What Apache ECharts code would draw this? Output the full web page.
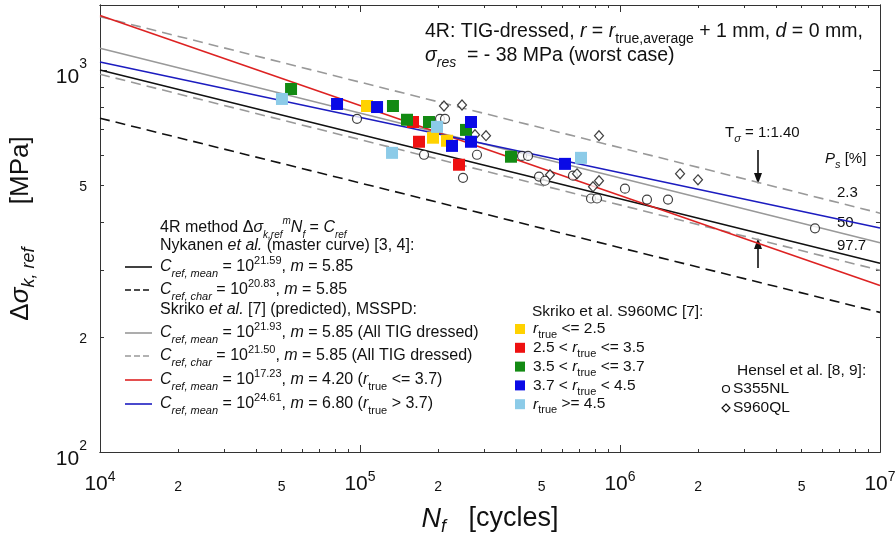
<!DOCTYPE html>
<html>
<head>
<meta charset="utf-8">
<script src="https://cdn.jsdelivr.net/npm/echarts@6/dist/echarts.min.js"></script>
<style>
  html, body { margin: 0; padding: 0; background: #fff; }
  #main { width: 896px; height: 536px; }
</style>
</head>
<body>
<div id="main"></div>
<script>
// 参考线 (两端点: N [cycles], Δσ [MPa])
var nykMean   = [[1e4, 1000], [1e7, 312]];
var nykChar   = [[1e4, 748],  [1e7, 232]];
var skrMean   = [[1e4, 1140], [1e7, 353]];
var skrChar   = [[1e4, 975],  [1e7, 299]];
var skrUpper  = [[1e4, 1380], [1e7, 422]];   // Ps = 2.3 %
var redMean   = [[1e4, 1390], [1e7, 273]];
var blueMean  = [[1e4, 1050], [1e7, 386]];

// Skriko S960MC 试验点
var yellowPts = [[106400, 805], [190900, 665], [216100, 653]];
var redPts    = [[159900, 731], [168600, 649], [240300, 565]];
var greenPts  = [[54300, 892], [133900, 805], [151600, 741], [184200, 731], [255700, 697], [380800, 593]];
var bluePts   = [[81600, 815], [116300, 800], [225900, 633], [267300, 731], [267300, 649], [614500, 568]];
var lbluePts  = [[50100, 840], [132800, 607], [197800, 710], [707900, 589]];

// Hensel 试验点
var s355Pts = [[97400, 745], [176300, 600], [203100, 745], [212300, 745], [281800, 600], [249000, 522],
               [419900, 596], [442800, 596], [488100, 526], [514700, 513], [659400, 529], [773600, 461],
               [815700, 461], [1045000, 489], [1270000, 458], [1530000, 458], [5623000, 385]];
var s960Pts = [[210400, 805], [246800, 810], [276900, 677], [305300, 673], [538000, 532], [683200, 535],
               [787400, 495], [830300, 513], [830300, 673], [1702000, 535], [1995000, 516]];

// 坐标轴范围 (对数)
var xRange = [1e4, 1e7];
var yRange = [100, 1480];
var xLabelMant = [1, 2, 5];
var yLabelMant = [1, 2, 5];

var FONT = '"Liberation Sans", Arial, sans-serif';

(function() {
  var myChart = echarts.init(document.getElementById('main'));

  function lg(arr) {
    return arr.map(function(p) { return [Math.log10(p[0]), Math.log10(p[1])]; });
  }

  // 刻度位置
  function ticks(lo, hi, mant) {
    var out = [];
    for (var d = Math.floor(lo); d <= Math.ceil(hi); d++) {
      for (var k = 0; k < mant.length; k++) {
        var v = d + Math.log10(mant[k]);
        if (v >= lo - 1e-9 && v <= hi + 1e-9) out.push(v);
      }
    }
    return out;
  }
  var all9 = [1, 2, 3, 4, 5, 6, 7, 8, 9];
  var xlo = Math.log10(xRange[0]), xhi = Math.log10(xRange[1]);
  var ylo = Math.log10(yRange[0]), yhi = Math.log10(yRange[1]);
  var xMinor = ticks(xlo, xhi, all9), xMajor = ticks(xlo, xhi, [1]), xLab = ticks(xlo, xhi, xLabelMant);
  var yMinor = ticks(ylo, yhi, all9), yMajor = ticks(ylo, yhi, [1]), yLab = ticks(ylo, yhi, yLabelMant);

  function fmt(v) {
    var d = Math.floor(v + 1e-9);
    var m = Math.round(Math.pow(10, v - d));
    if (m === 1) return '{b|10}{sup|' + d + '}';
    return '{s|' + m + '}';
  }
  var labelRich = {
    b: { fontFamily: FONT, fontSize: 21, lineHeight: 28, color: '#111' },
    sup: { fontFamily: FONT, fontSize: 14, lineHeight: 14, verticalAlign: 'top', color: '#111' },
    s: { fontFamily: FONT, fontSize: 14, lineHeight: 28, color: '#111', padding: [6, 0, 0, 0] }
  };
  var ylabelRich = {
    b: { fontFamily: FONT, fontSize: 21, lineHeight: 40, color: '#111' },
    sup: labelRich.sup,
    s: { fontFamily: FONT, fontSize: 14, lineHeight: 28, color: '#111', padding: [0, 0, 10, 0] }
  };

  function rich(size) {
    var s = Math.round(size * 0.7), lh = size + 8;
    return {
      i:    { fontFamily: FONT, fontSize: size, lineHeight: lh, fontStyle: 'italic' },
      sub:  { fontFamily: FONT, fontSize: s, lineHeight: s, verticalAlign: 'bottom' },
      isub: { fontFamily: FONT, fontSize: s, lineHeight: s, verticalAlign: 'bottom', fontStyle: 'italic' },
      sup:  { fontFamily: FONT, fontSize: s, lineHeight: s, verticalAlign: 'top' },
      isup: { fontFamily: FONT, fontSize: s, lineHeight: s, verticalAlign: 'top', fontStyle: 'italic' }
    };
  }
  function txt(x, y, text, size, extra) {
    var st = { text: text, fontFamily: FONT, fontSize: size, lineHeight: size + 8, fill: '#111',
               align: 'left', verticalAlign: 'middle', rich: rich(size) };
    if (extra) for (var k in extra) st[k] = extra[k];
    return { type: 'text', x: x, y: y, silent: true, style: st };
  }
  function seg(x1, y1, x2, y2, color, dash) {
    return { type: 'line', silent: true, shape: { x1: x1, y1: y1, x2: x2, y2: y2 },
             style: { stroke: color, lineWidth: 1.6, lineDash: dash || null } };
  }

  var axisColor = '#333';
  function xAx(pos, tickVals, len, withLabel) {
    var a = {
      type: 'value', min: xlo, max: xhi, position: pos,
      axisLine: { show: true, onZero: false, lineStyle: { color: axisColor, width: 1 } },
      axisTick: { show: true, inside: true, length: len, customValues: tickVals, lineStyle: { color: axisColor } },
      axisLabel: { show: false },
      splitLine: { show: false }
    };
    if (withLabel) {
      a.axisLabel = { show: true, customValues: xLab, formatter: fmt, margin: 18, rich: labelRich };
      a.name = '{i|N}{isub|f}   [cycles]';
      a.nameLocation = 'middle';
      a.nameGap = 50;
      a.nameTextStyle = { fontFamily: FONT, fontSize: 27, color: '#111', rich: {
        i: { fontFamily: FONT, fontSize: 27, fontStyle: 'italic', lineHeight: 34 },
        isub: { fontFamily: FONT, fontSize: 18, fontStyle: 'italic', lineHeight: 18, verticalAlign: 'bottom' } } };
    }
    return a;
  }
  function yAx(pos, tickVals, len, withLabel) {
    var a = {
      type: 'value', min: ylo, max: yhi, position: pos,
      axisLine: { show: true, onZero: false, lineStyle: { color: axisColor, width: 1 } },
      axisTick: { show: true, inside: true, length: len, customValues: tickVals, lineStyle: { color: axisColor } },
      axisLabel: { show: false },
      splitLine: { show: false }
    };
    if (withLabel) {
      a.axisLabel = { show: true, customValues: yLab, formatter: fmt, margin: 13, rich: ylabelRich,
                      padding: [14, 0, 0, 0] };
      a.name = '{b|Δ}{i|σ}{isub|k, ref}      {b|[MPa]}';
      a.nameLocation = 'middle';
      a.nameRotate = 90;
      a.nameGap = 62;
      a.nameTextStyle = { fontFamily: FONT, fontSize: 26, color: '#111', rich: {
        b: { fontFamily: FONT, fontSize: 26, lineHeight: 34 },
        i: { fontFamily: FONT, fontSize: 26, fontStyle: 'italic', lineHeight: 34 },
        isub: { fontFamily: FONT, fontSize: 18, fontStyle: 'italic', lineHeight: 18, verticalAlign: 'bottom' } } };
    }
    return a;
  }

  function lineSeries(name, data, color, dash) {
    return { name: name, type: 'line', data: lg(data), symbol: 'none', silent: true, z: 2,
             lineStyle: { color: color, width: 1.6, type: dash ? [10, 6] : 'solid' } };
  }
  function sq(name, data, color) {
    return { name: name, type: 'scatter', data: lg(data), symbol: 'rect', symbolSize: 12, z: 4,
             itemStyle: { color: color, opacity: 1 } };
  }

  var cYellow = '#ffd200', cRed = '#ee1111', cGreen = '#138a13', cBlue = '#0a0ae6', cLblue = '#8ccbe8';
  var lRed = '#dd2222', lBlue = '#1c1cc0', lGray = '#999999', lBlack = '#111111';

  // 图例和注释
  var g = [];
  g.push(txt(425, 32, '4R: TIG-dressed, {i|r} = {i|r}{sub|true,average} + 1 mm, {i|d} = 0 mm,', 19.5));
  g.push(txt(425, 56, '{i|σ}{isub|res}  = - 38 MPa (worst case)', 19.5));

  var lx = 160, fs = 16;
  g.push(txt(lx, 228, '4R method Δ{i|σ}{isub|k,ref}{isup|m}{i|N}{isub|f} = {i|C}{isub|ref}', fs,
             { rich: (function() { var r = rich(fs); r.isub.fontSize = 10; r.isub.lineHeight = 9;
               r.isup.fontSize = 10; r.isup.lineHeight = 9; return r; })() }));
  g.push(txt(lx, 246, 'Nykanen {i|et al.} (master curve) [3, 4]:', fs));
  g.push(txt(lx, 267, '{i|C}{isub|ref, mean} = 10{sup|21.59}, {i|m} = 5.85', fs));
  g.push(txt(lx, 290, '{i|C}{isub|ref, char} = 10{sup|20.83}, {i|m} = 5.85', fs));
  g.push(txt(lx, 310, 'Skriko {i|et al.} [7] (predicted), MSSPD:', fs));
  g.push(txt(lx, 333, '{i|C}{isub|ref, mean} = 10{sup|21.93}, {i|m} = 5.85 (All TIG dressed)', fs));
  g.push(txt(lx, 356, '{i|C}{isub|ref, char} = 10{sup|21.50}, {i|m} = 5.85 (All TIG dressed)', fs));
  g.push(txt(lx, 380, '{i|C}{isub|ref, mean} = 10{sup|17.23}, {i|m} = 4.20 ({i|r}{sub|true} <= 3.7)', fs));
  g.push(txt(lx, 404, '{i|C}{isub|ref, mean} = 10{sup|24.61}, {i|m} = 6.80 ({i|r}{sub|true} > 3.7)', fs));
  g.push(seg(125, 267, 152, 267, lBlack));
  g.push(seg(125, 290, 152, 290, lBlack, [6, 3]));
  g.push(seg(125, 333, 152, 333, lGray));
  g.push(seg(125, 356, 152, 356, lGray, [6, 3]));
  g.push(seg(125, 380, 152, 380, lRed));
  g.push(seg(125, 404, 152, 404, lBlue));

  g.push(txt(532, 312, 'Skriko et al. S960MC [7]:', 15.5));
  var sqRows = [
    [cYellow, '{i|r}{sub|true} <= 2.5'],
    [cRed, '2.5 < {i|r}{sub|true} <= 3.5'],
    [cGreen, '3.5 < {i|r}{sub|true} <= 3.7'],
    [cBlue, '3.7 < {i|r}{sub|true} < 4.5'],
    [cLblue, '{i|r}{sub|true} >= 4.5']
  ];
  sqRows.forEach(function(r, i) {
    var y = 329 + i * 18.8;
    g.push({ type: 'rect', silent: true, shape: { x: 515, y: y - 5, width: 10, height: 10 }, style: { fill: r[0] } });
    g.push(txt(533, y, r[1], 15.5));
  });

  g.push(txt(737, 371, 'Hensel et al. [8, 9]:', 15.5));
  g.push({ type: 'circle', silent: true, shape: { cx: 726, cy: 389, r: 3.5 }, style: { fill: '#fff', stroke: '#111', lineWidth: 1.2 } });
  g.push(txt(733, 389, 'S355NL', 15.5));
  g.push({ type: 'polygon', silent: true, shape: { points: [[726, 404], [730, 408], [726, 412], [722, 408]] },
           style: { fill: '#fff', stroke: '#111', lineWidth: 1.2 } });
  g.push(txt(733, 408, 'S960QL', 15.5));

  g.push(txt(725, 133, 'T{isub|σ} = 1:1.40', 15));
  g.push(seg(758, 150, 758, 176, '#111'));
  g.push({ type: 'polygon', silent: true, shape: { points: [[754, 173], [762, 173], [758, 184]] }, style: { fill: '#111' } });
  g.push(seg(758, 268, 758, 246, '#111'));
  g.push({ type: 'polygon', silent: true, shape: { points: [[754, 249], [762, 249], [758, 238]] }, style: { fill: '#111' } });
  g.push(txt(825, 159, '{i|P}{isub|s} [%]', 15));
  g.push(txt(837, 193, '2.3', 15));
  g.push(txt(837, 223, '50', 15));
  g.push(txt(837, 246, '97.7', 15));

  var option = {
    animation: false,
    backgroundColor: '#fff',
    grid: { left: 100, right: 16, top: 5, bottom: 84, containLabel: false, outerBoundsMode: 'none' },
    xAxis: [
      xAx('bottom', xMinor, 3, true),
      xAx('bottom', xMajor, 7, false),
      xAx('top', xMinor, 3, false),
      xAx('top', xMajor, 7, false)
    ],
    yAxis: [
      yAx('left', yMinor, 4, true),
      yAx('left', yMajor, 7, false),
      yAx('right', yMinor, 4, false),
      yAx('right', yMajor, 7, false)
    ],
    series: [
      lineSeries('nykChar', nykChar, lBlack, true),
      lineSeries('skrChar', skrChar, lGray, true),
      lineSeries('skrUpper', skrUpper, lGray, true),
      lineSeries('skrMean', skrMean, lGray, false),
      lineSeries('nykMean', nykMean, lBlack, false),
      lineSeries('redMean', redMean, lRed, false),
      lineSeries('blueMean', blueMean, lBlue, false),
      { name: 'S355NL', type: 'scatter', data: lg(s355Pts), symbol: 'circle', symbolSize: 9, z: 3,
        itemStyle: { color: '#fff', borderColor: '#111', borderWidth: 1.2 } },
      { name: 'S960QL', type: 'scatter', data: lg(s960Pts), symbol: 'diamond', symbolSize: [9, 10], z: 3,
        itemStyle: { color: '#fff', borderColor: '#111', borderWidth: 1.2 } },
      sq('y', yellowPts, cYellow),
      sq('r', redPts, cRed),
      sq('g', greenPts, cGreen),
      sq('b', bluePts, cBlue),
      sq('lb', lbluePts, cLblue)
    ],
    graphic: g
  };
  myChart.setOption(option);
})();
</script>
</body>
</html>
